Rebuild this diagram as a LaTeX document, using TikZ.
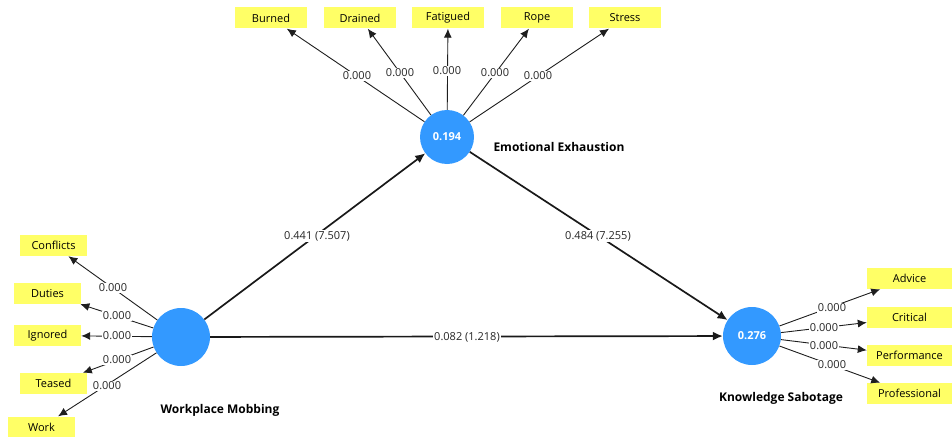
\documentclass[tikz,border=0pt]{standalone}
\usepackage{fontspec}
\setmainfont{Open Sans}
\usetikzlibrary{arrows.meta}
\definecolor{lvblue}{RGB}{51,153,255}
\definecolor{indyellow}{RGB}{255,255,102}
\definecolor{linegray}{RGB}{30,30,30}
\begin{document}
\begin{tikzpicture}[x=1pt,y=-1pt,
  ind/.style={fill=indyellow,draw=none,minimum width=67pt,minimum height=21pt,inner sep=0pt,font=\fontsize{11}{13}\selectfont},
  indw/.style={ind,minimum width=72pt},
  indr/.style={ind,minimum width=85pt},
  lv/.style={circle,fill=lvblue,draw=none,inner sep=0pt,text=white,font=\bfseries\fontsize{11}{13}\selectfont},
  lvname/.style={font=\bfseries\fontsize{12}{14}\selectfont,inner sep=0pt},
  lbl/.style={fill=white,inner sep=1pt,font=\fontsize{11}{13}\selectfont,text=black!85},
  load/.style={draw=linegray,line width=0.9pt,-{Latex[length=9pt,width=8pt]}},
  path/.style={draw=black!90,line width=1.7pt,-{Latex[length=10pt,width=9pt]}}
]
\useasboundingbox (0,0) rectangle (952,436);
% latent variables
\node[lv,minimum size=58pt] (wm) at (181,337) {};
\node[lv,minimum size=54pt] (ee) at (447,137) {0.194};
\node[lv,minimum size=58pt] (ks) at (752,336) {0.276};
\node[lvname] (wmn) at (220,410) {Workplace Mobbing};
\node[lvname] (een) at (559,147) {Emotional Exhaustion};
\node[lvname] (ksn) at (781,398) {Knowledge Sabotage};
% indicators top
\node[indw] (burned) at (271,18) {Burned};
\node[indw] (drained) at (360,18) {Drained};
\node[indw] (fatigued) at (448,18) {Fatigued};
\node[indw] (rope) at (537,18) {Rope};
\node[indw] (stress) at (625,18) {Stress};
% indicators left
\node[ind] (conflicts) at (53.5,245.5) {Conflicts};
\node[ind] (duties) at (47.5,293.5) {Duties};
\node[ind] (ignored) at (47.5,335.5) {Ignored};
\node[ind] (teased) at (53.5,383.5) {Teased};
\node[ind] (work) at (41.5,427) {Work};
% indicators right
\node[indr] (advice) at (909.5,278.5) {Advice};
\node[indr] (critical) at (909.5,317.5) {Critical};
\node[indr] (performance) at (909.5,355.5) {Performance};
\node[indr] (professional) at (909.5,393.5) {Professional};
% loadings
\foreach \t in {burned,drained,fatigued,rope,stress}{\draw[load] (ee) -- (\t);}
\foreach \t in {conflicts,duties,ignored,teased,work}{\draw[load] (wm) -- (\t);}
\foreach \t in {advice,critical,performance,professional}{\draw[load] (ks) -- (\t);}
% loading labels
\node[lbl] (l1) at (357,76) {0.000};
\node[lbl] (l2) at (400,73) {0.000};
\node[lbl] (l3) at (447,71) {0.000};
\node[lbl] (l4) at (495,73) {0.000};
\node[lbl] (l5) at (538,76) {0.000};
\node[lbl] (l6) at (113,288) {0.000};
\node[lbl] (l7) at (117,316) {0.000};
\node[lbl] (l8) at (117,336) {0.000};
\node[lbl] (l9) at (117,360) {0.000};
\node[lbl] (l10) at (107,386) {0.000};
\node[lbl] (l11) at (832,308) {0.000};
\node[lbl] (l12) at (824,328) {0.000};
\node[lbl] (l13) at (824,346) {0.000};
\node[lbl] (l14) at (832,365) {0.000};
% structural paths
\draw[path] (wm) -- (ee);
\draw[path] (ee) -- (ks);
\draw[path] (wm) -- (ks);
\node[lbl] (p1) at (317,236) {0.441 (7.507)};
\node[lbl] (p2) at (598,236) {0.484 (7.255)};
\node[lbl] (p3) at (467,337) {0.082 (1.218)};
\end{tikzpicture}
\end{document}
